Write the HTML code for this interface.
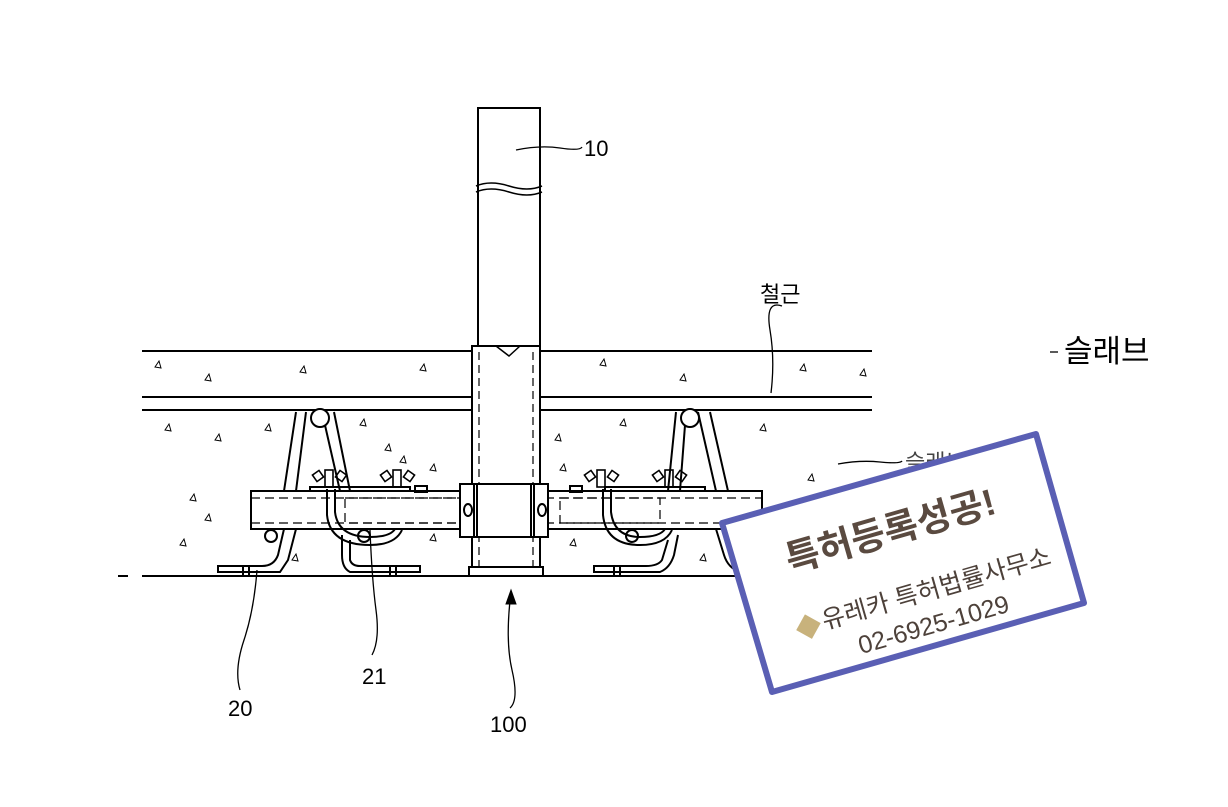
<!DOCTYPE html>
<html><head><meta charset="utf-8"><style>
html,body{margin:0;padding:0;background:#fff;}
svg{display:block;}
text{font-family:"Liberation Sans","Noto Sans CJK KR",sans-serif;}
</style></head><body>
<svg width="1228" height="807" viewBox="0 0 1228 807" xmlns="http://www.w3.org/2000/svg">
<rect width="1228" height="807" fill="#fff"/>
<g stroke="#000" stroke-width="2" fill="none">
<line x1="142" y1="351" x2="872" y2="351"/>
<line x1="142" y1="397" x2="872" y2="397"/>
<line x1="142" y1="410" x2="872" y2="410"/>
<line x1="142" y1="576" x2="872" y2="576"/>
<line x1="118" y1="576" x2="128" y2="576"/>
<rect x="478" y="108" width="62" height="240" fill="#fff"/>
<path d="M476 186 Q490 180 509 186 T542 186" stroke-width="1.5"/>
<path d="M476 192 Q490 186 509 192 T542 192" stroke-width="1.5"/>
<rect x="472" y="346" width="68" height="222" fill="#fff"/>
<path d="M496 346 L509 356 L520 346" stroke-width="1.5"/>
<line x1="479" y1="352" x2="479" y2="566" stroke-dasharray="8,5" stroke-width="1.2"/>
<line x1="533" y1="352" x2="533" y2="566" stroke-dasharray="8,5" stroke-width="1.2"/>
<rect x="469" y="567" width="74" height="9" fill="#fff"/>
<path d="M296 491 L306 412 M284 491 L296 412 M334 412 L350 491 M322 412 L340 491"/>
<circle cx="320" cy="418" r="9" fill="#fff"/>
<path d="M680 491 L686 412 M668 491 L676 412 M698 412 L716 491 M710 412 L728 491"/>
<circle cx="690" cy="418" r="9" fill="#fff"/>
<rect x="251" y="491" width="511" height="38" fill="#fff"/>
<line x1="251" y1="498" x2="762" y2="498" stroke-dasharray="9,5" stroke-width="1.2"/>
<line x1="251" y1="523" x2="762" y2="523" stroke-dasharray="9,5" stroke-width="1.2"/>
<rect x="345" y="498" width="120" height="25" stroke-dasharray="9,5" stroke-width="1.2"/>
<rect x="560" y="498" width="100" height="25" stroke-dasharray="9,5" stroke-width="1.2"/>
<rect x="310" y="487" width="100" height="4"/><rect x="415" y="486" width="12" height="6"/>
<rect x="570" y="486" width="12" height="6"/><rect x="605" y="487" width="100" height="4"/>
<g stroke-width="1.6">
<rect x="325" y="470" width="8" height="17"/><rect x="314" y="472" width="8" height="8" transform="rotate(-35 318 476)"/><rect x="337" y="472" width="8" height="8" transform="rotate(35 341 476)"/>
<rect x="393" y="470" width="8" height="17"/><rect x="382" y="472" width="8" height="8" transform="rotate(-35 386 476)"/><rect x="405" y="472" width="8" height="8" transform="rotate(35 409 476)"/>
<rect x="597" y="470" width="8" height="17"/><rect x="586" y="472" width="8" height="8" transform="rotate(-35 590 476)"/><rect x="609" y="472" width="8" height="8" transform="rotate(35 613 476)"/>
<rect x="665" y="470" width="8" height="17"/><rect x="654" y="472" width="8" height="8" transform="rotate(-35 658 476)"/><rect x="677" y="472" width="8" height="8" transform="rotate(35 681 476)"/>
</g>
<path d="M327 489 L327 515 Q330 545 370 545 Q395 545 402 530"/>
<path d="M335 489 L335 512 Q338 537 370 537 Q390 537 395 529"/>
<path d="M603 489 L603 515 Q606 545 640 545 Q665 545 672 530"/>
<path d="M611 489 L611 512 Q614 537 640 537 Q660 537 665 529"/>
<rect x="460" y="484" width="88" height="53" fill="#fff"/>
<line x1="474" y1="484" x2="474" y2="537"/><line x1="477" y1="484" x2="477" y2="537"/>
<line x1="531" y1="484" x2="531" y2="537"/><line x1="534" y1="484" x2="534" y2="537"/>
<ellipse cx="468" cy="510" rx="4" ry="6"/><ellipse cx="542" cy="510" rx="4" ry="6"/>
<circle cx="271" cy="536" r="6"/><circle cx="364" cy="536" r="6"/><circle cx="632" cy="536" r="6"/><circle cx="744" cy="536" r="6"/>
<path d="M284 529 L278 555 Q274 566 262 566 L218 566 L218 572 L280 572 L288 560 L296 529"/>
<path d="M350 540 L350 560 Q352 566 360 566 L420 566 L420 572 L350 572 Q342 568 342 555 L342 535"/>
<path d="M668 540 L662 560 Q658 566 646 566 L594 566 L594 572 L660 572 Q670 568 674 555 L678 535"/>
<path d="M728 529 L734 560 Q738 566 750 566 L795 566 L795 572 L740 572 Q728 568 724 555 L716 529"/>
<rect x="243" y="566" width="6" height="10"/><rect x="390" y="566" width="6" height="10"/><rect x="614" y="566" width="6" height="10"/><rect x="765" y="566" width="6" height="10"/>
<path d="M516 150 Q540 145 560 148 T582 147" stroke-width="1.3"/>
<path d="M771 393 Q775 360 770 330 T782 306" stroke-width="1.3"/>
<path d="M838 464 Q860 460 880 462 T902 461" stroke-width="1.3"/>
<path d="M1050 352 L1058 352" stroke-width="1.3"/>
<path d="M257 570 Q254 610 244 640 T240 690" stroke-width="1.3"/>
<path d="M370 530 Q372 580 376 610 T372 655" stroke-width="1.3"/>
<path d="M511 592 Q505 640 512 670 T510 708" stroke-width="1.3"/>
<path d="M511 590 L506 604 L516 604 Z" fill="#000" stroke-width="1"/>
</g>
<g stroke="#000" stroke-width="1" fill="none">
<path d="M155 367l4 -6l2 7z M205 380l4 -6l2 7z M300 372l4 -6l2 7z M420 370l4 -6l2 7z M600 365l4 -6l2 7z M680 380l4 -6l2 7z M800 370l4 -6l2 7z M860 375l4 -6l2 7z
M165 430l4 -6l2 7z M215 440l4 -6l2 7z M265 430l4 -6l2 7z M385 450l4 -6l2 7z M400 462l4 -6l2 7z M430 470l4 -6l2 7z M360 425l4 -6l2 7z M555 440l4 -6l2 7z M560 470l4 -6l2 7z M620 425l4 -6l2 7z M760 430l4 -6l2 7z M808 480l4 -6l2 7z
M190 500l4 -6l2 7z M205 520l4 -6l2 7z M180 545l4 -6l2 7z M292 560l4 -6l2 7z M430 540l4 -6l2 7z M570 545l4 -6l2 7z M700 560l4 -6l2 7z M780 520l4 -6l2 7z"/>
</g>
<g fill="#000" font-size="22">
<text x="584" y="156">10</text>
<text x="760" y="302">철근</text>
<text x="1064" y="362" font-size="31">슬래브</text>
<text x="905" y="470" fill="#444">슬래브</text>
<text x="228" y="716">20</text>
<text x="362" y="684">21</text>
<text x="490" y="732">100</text>
</g>
<polygon points="722,523 1036,434 1084,603 772,692" fill="#fff" stroke="#5a5fb4" stroke-width="6" stroke-linejoin="round"/>
<g transform="rotate(-16 900 565)" fill="#4d413a">
<text x="792" y="542" font-size="37" font-weight="bold" fill="#5a4a40">특허등록성공!</text>
<rect x="786" y="590" width="18" height="18" fill="#c8b27c" transform="rotate(45 795 599)"/>
<text x="810" y="606" font-size="25">유레카 특허법률사무소</text>
<text x="838" y="640" font-size="25">02-6925-1029</text>
</g>
</svg>
</body></html>
